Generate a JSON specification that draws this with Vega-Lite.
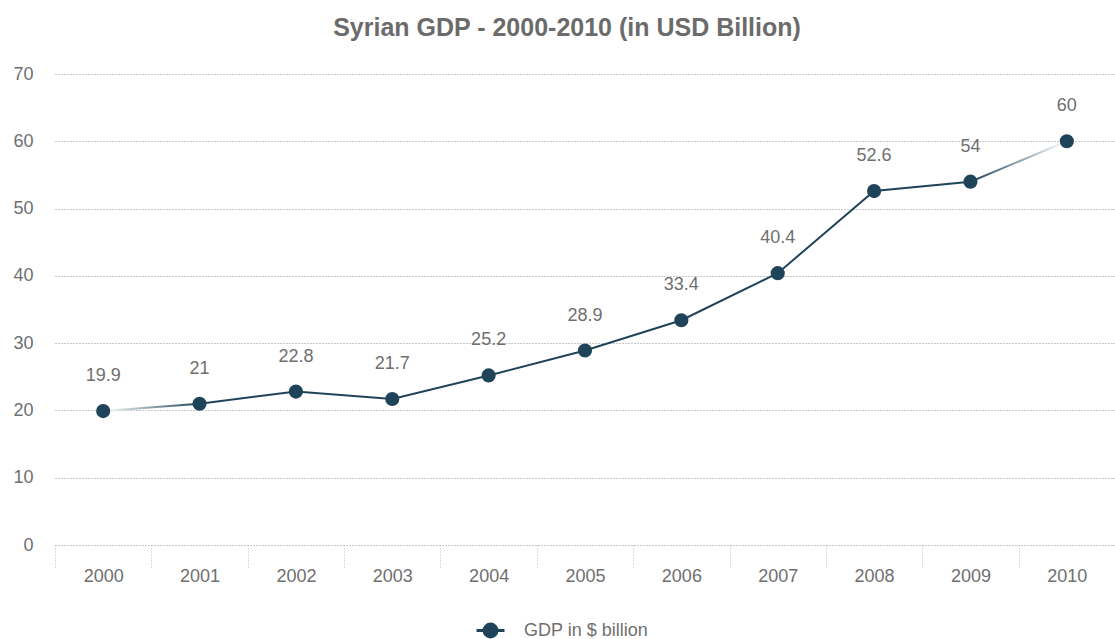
{
  "$schema": "https://vega.github.io/schema/vega-lite/v6.json",
  "width": 1060,
  "height": 471,
  "autosize": {"type": "none"},
  "padding": {"left": 55, "top": 74, "right": 0, "bottom": 94},
  "background": "white",
  "config": {
    "view": {"stroke": null},
    "font": "Liberation Sans"
  },
  "title": {
    "text": "Syrian GDP - 2000-2010 (in USD Billion)",
    "fontSize": 25,
    "fontWeight": "bold",
    "color": "#6b6b6b",
    "font": "Liberation Sans",
    "anchor": "middle",
    "dx": -18,
    "offset": 24
  },
  "data": {
    "values": [
      {"year": "2000", "gdp": 19.9, "series": "GDP in $ billion"},
      {"year": "2001", "gdp": 21, "series": "GDP in $ billion"},
      {"year": "2002", "gdp": 22.8, "series": "GDP in $ billion"},
      {"year": "2003", "gdp": 21.7, "series": "GDP in $ billion"},
      {"year": "2004", "gdp": 25.2, "series": "GDP in $ billion"},
      {"year": "2005", "gdp": 28.9, "series": "GDP in $ billion"},
      {"year": "2006", "gdp": 33.4, "series": "GDP in $ billion"},
      {"year": "2007", "gdp": 40.4, "series": "GDP in $ billion"},
      {"year": "2008", "gdp": 52.6, "series": "GDP in $ billion"},
      {"year": "2009", "gdp": 54, "series": "GDP in $ billion"},
      {"year": "2010", "gdp": 60, "series": "GDP in $ billion"}
    ]
  },
  "encoding": {
    "x": {
      "field": "year",
      "type": "ordinal",
      "bandPosition": 0.5,
      "scale": {"type": "band", "paddingInner": 0, "paddingOuter": 0},
      "axis": {
        "title": null,
        "labelAngle": 0,
        "labelFontSize": 18,
        "labelColor": "#6f6f6f",
        "labelPadding": 0,
        "domain": false,
        "grid": false,
        "ticks": true,
        "tickBand": "extent",
        "tickSize": 22,
        "tickColor": "#b8b8b8",
        "tickDash": [1, 2],
        "tickWidth": 1
      }
    },
    "y": {
      "field": "gdp",
      "type": "quantitative",
      "scale": {"domain": [0, 70], "nice": false},
      "axis": {
        "title": null,
        "values": [0, 10, 20, 30, 40, 50, 60, 70],
        "labelFontSize": 18,
        "labelColor": "#6f6f6f",
        "labelPadding": 22,
        "domain": false,
        "ticks": false,
        "grid": true,
        "gridColor": "#8f8f8f",
        "gridDash": [1, 2],
        "gridWidth": 1
      }
    }
  },
  "layer": [
    {
      "mark": {
        "type": "line",
        "strokeWidth": 2,
        "color": {
          "gradient": "linear",
          "x1": 0, "y1": 0, "x2": 1, "y2": 0,
          "stops": [
            {"offset": 0, "color": "#ffffff"},
            {"offset": 0.1, "color": "#1f4459"},
            {"offset": 0.9, "color": "#1f4459"},
            {"offset": 1, "color": "#ffffff"}
          ]
        }
      }
    },
    {
      "mark": {"type": "point", "filled": true, "opacity": 1, "size": 200},
      "encoding": {
        "color": {
          "field": "series",
          "type": "nominal",
          "scale": {"range": ["#1f4459"]},
          "legend": {
            "title": null,
            "orient": "none",
            "legendX": 420,
            "legendY": 541,
            "labelFontSize": 18,
            "labelColor": "#6f6f6f",
            "labelOffset": 18,
            "symbolSize": 784,
            "symbolType": "M-1,0 L1,0 M-0.46,0 A0.46,0.46 0 1,1 0.46,0 A0.46,0.46 0 1,1 -0.46,0 Z",
            "symbolStrokeWidth": 3,
            "symbolStrokeColor": "#1f4459",
            "symbolFillColor": "#1f4459",
            "encode": {
              "symbols": {
                "update": {
                  "stroke": {"value": "#1f4459"},
                  "strokeWidth": {"value": 3},
                  "fill": {"value": "#1f4459"}
                }
              }
            }
          }
        }
      }
    },
    {
      "mark": {"type": "text", "dy": -35, "fontSize": 18, "color": "#6f6f6f", "baseline": "middle"},
      "encoding": {
        "text": {"field": "gdp", "type": "quantitative"}
      }
    }
  ]
}
